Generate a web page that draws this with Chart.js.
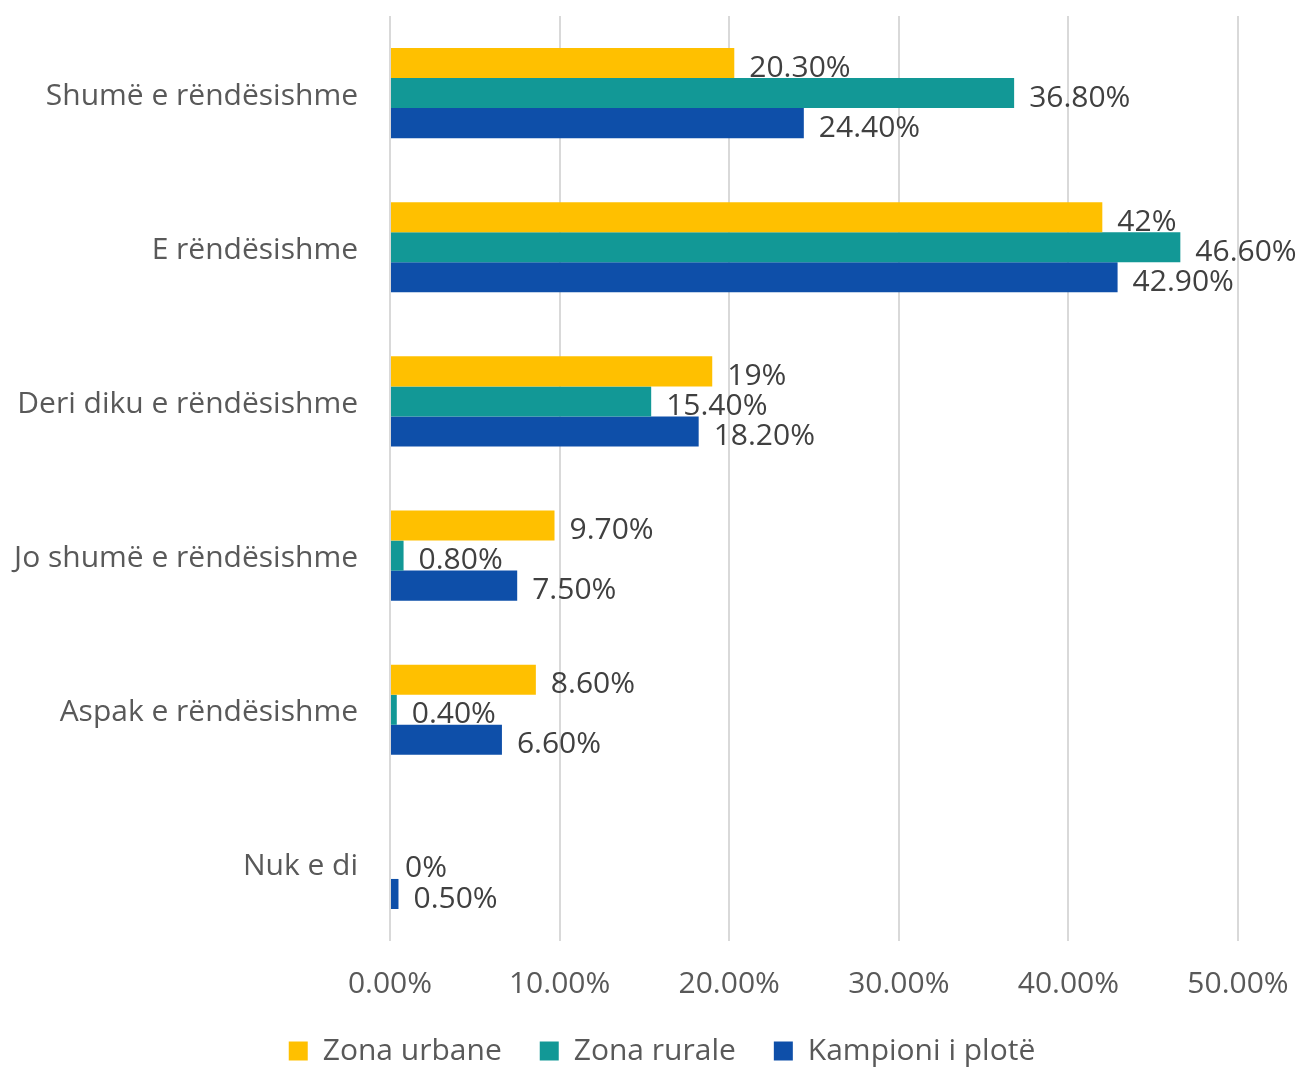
<!DOCTYPE html>
<html>
<head>
<meta charset="utf-8">
<script src="https://cdn.jsdelivr.net/npm/chart.js@4"></script>
<style>
  html, body { margin: 0; padding: 0; background: #fff; }
  #wrap { width: 1300px; height: 1068px; }
</style>
</head>
<body>
<div id="wrap"><canvas id="rendChart" width="1300" height="1068"></canvas></div>
<script>
const categories = ['Shumë e rëndësishme', 'E rëndësishme', 'Deri diku e rëndësishme',
  'Jo shumë e rëndësishme', 'Aspak e rëndësishme', 'Nuk e di'];
const seriesNames = ['Zona urbane', 'Zona rurale', 'Kampioni i plotë'];
const urban = [20.3, 42, 19, 9.7, 8.6, null];
const rural = [36.8, 46.6, 15.4, 0.8, 0.4, 0];
const full = [24.4, 42.9, 18.2, 7.5, 6.6, 0.5];
const urbanLabels = ['20.30%', '42%', '19%', '9.70%', '8.60%', ''];
const ruralLabels = ['36.80%', '46.60%', '15.40%', '0.80%', '0.40%', '0%'];
const fullLabels = ['24.40%', '42.90%', '18.20%', '7.50%', '6.60%', '0.50%'];
const xTicks = [0, 10, 20, 30, 40, 50];

const FONT = '"Open Sans", "Noto Sans", sans-serif';

// draw value labels after all bars, like the original
const valueLabels = {
  id: 'valueLabels',
  afterDatasetsDraw(chart) {
    const ctx = chart.ctx;
    const all = [urbanLabels, ruralLabels, fullLabels];
    ctx.save();
    ctx.font = '30px ' + FONT;
    ctx.fillStyle = '#404040';
    ctx.textBaseline = 'middle';
    ctx.textAlign = 'left';
    chart.data.datasets.forEach(function (ds, i) {
      const meta = chart.getDatasetMeta(i);
      meta.data.forEach(function (bar, j) {
        const txt = all[i][j];
        if (!txt || ds.data[j] === null) return;
        ctx.fillText(txt, bar.x + 15, bar.y + 5);
      });
    });
    ctx.restore();
  }
};

// legend in the original sits a bit right of the canvas centre
const shiftLegend = {
  id: 'shiftLegend',
  afterLayout(chart) {
    if (chart.legend) {
      chart.legend.left += 39;
      chart.legend.right += 39;
    }
  }
};

const ctx = document.getElementById('rendChart').getContext('2d');
new Chart(ctx, {
  type: 'bar',
  data: {
    labels: categories,
    datasets: [
      { label: seriesNames[0], data: urban, backgroundColor: '#FFC000' },
      { label: seriesNames[1], data: rural, backgroundColor: '#129896' },
      { label: seriesNames[2], data: full, backgroundColor: '#0E4FA9' }
    ]
  },
  options: {
    indexAxis: 'y',
    responsive: false,
    animation: false,
    layout: { padding: { left: 8, right: 62, top: 16, bottom: -8 } },
    datasets: {
      bar: { barPercentage: 1, categoryPercentage: 0.585, borderWidth: 0 }
    },
    scales: {
      x: {
        min: 0,
        max: 50,
        afterBuildTicks(axis) {
          axis.ticks = xTicks.map(v => ({ value: v }));
        },
        afterFit(axis) {
          axis.height = 57;
          axis.paddingLeft = 0;
          axis.paddingRight = 0;
        },
        grid: { color: '#d9d9d9', lineWidth: 2, drawTicks: false },
        border: { display: false },
        ticks: {
          padding: 25,
          color: '#595959',
          font: { family: FONT, size: 30 },
          callback: v => v.toFixed(2) + '%'
        }
      },
      y: {
        grid: { display: false, drawTicks: false },
        border: { display: false },
        afterFit(axis) {
          axis.width = 382;
          axis.paddingTop = 0;
          axis.paddingBottom = 0;
        },
        ticks: {
          padding: 32,
          labelOffset: 3,
          color: '#595959',
          font: { family: FONT, size: 30 }
        }
      }
    },
    plugins: {
      legend: {
        position: 'bottom',
        labels: {
          boxWidth: 19,
          boxHeight: 19,
          padding: 38,
          color: '#595959',
          font: { family: FONT, size: 30 }
        }
      },
      tooltip: { enabled: false }
    }
  },
  plugins: [valueLabels, shiftLegend]
});
</script>
</body>
</html>
